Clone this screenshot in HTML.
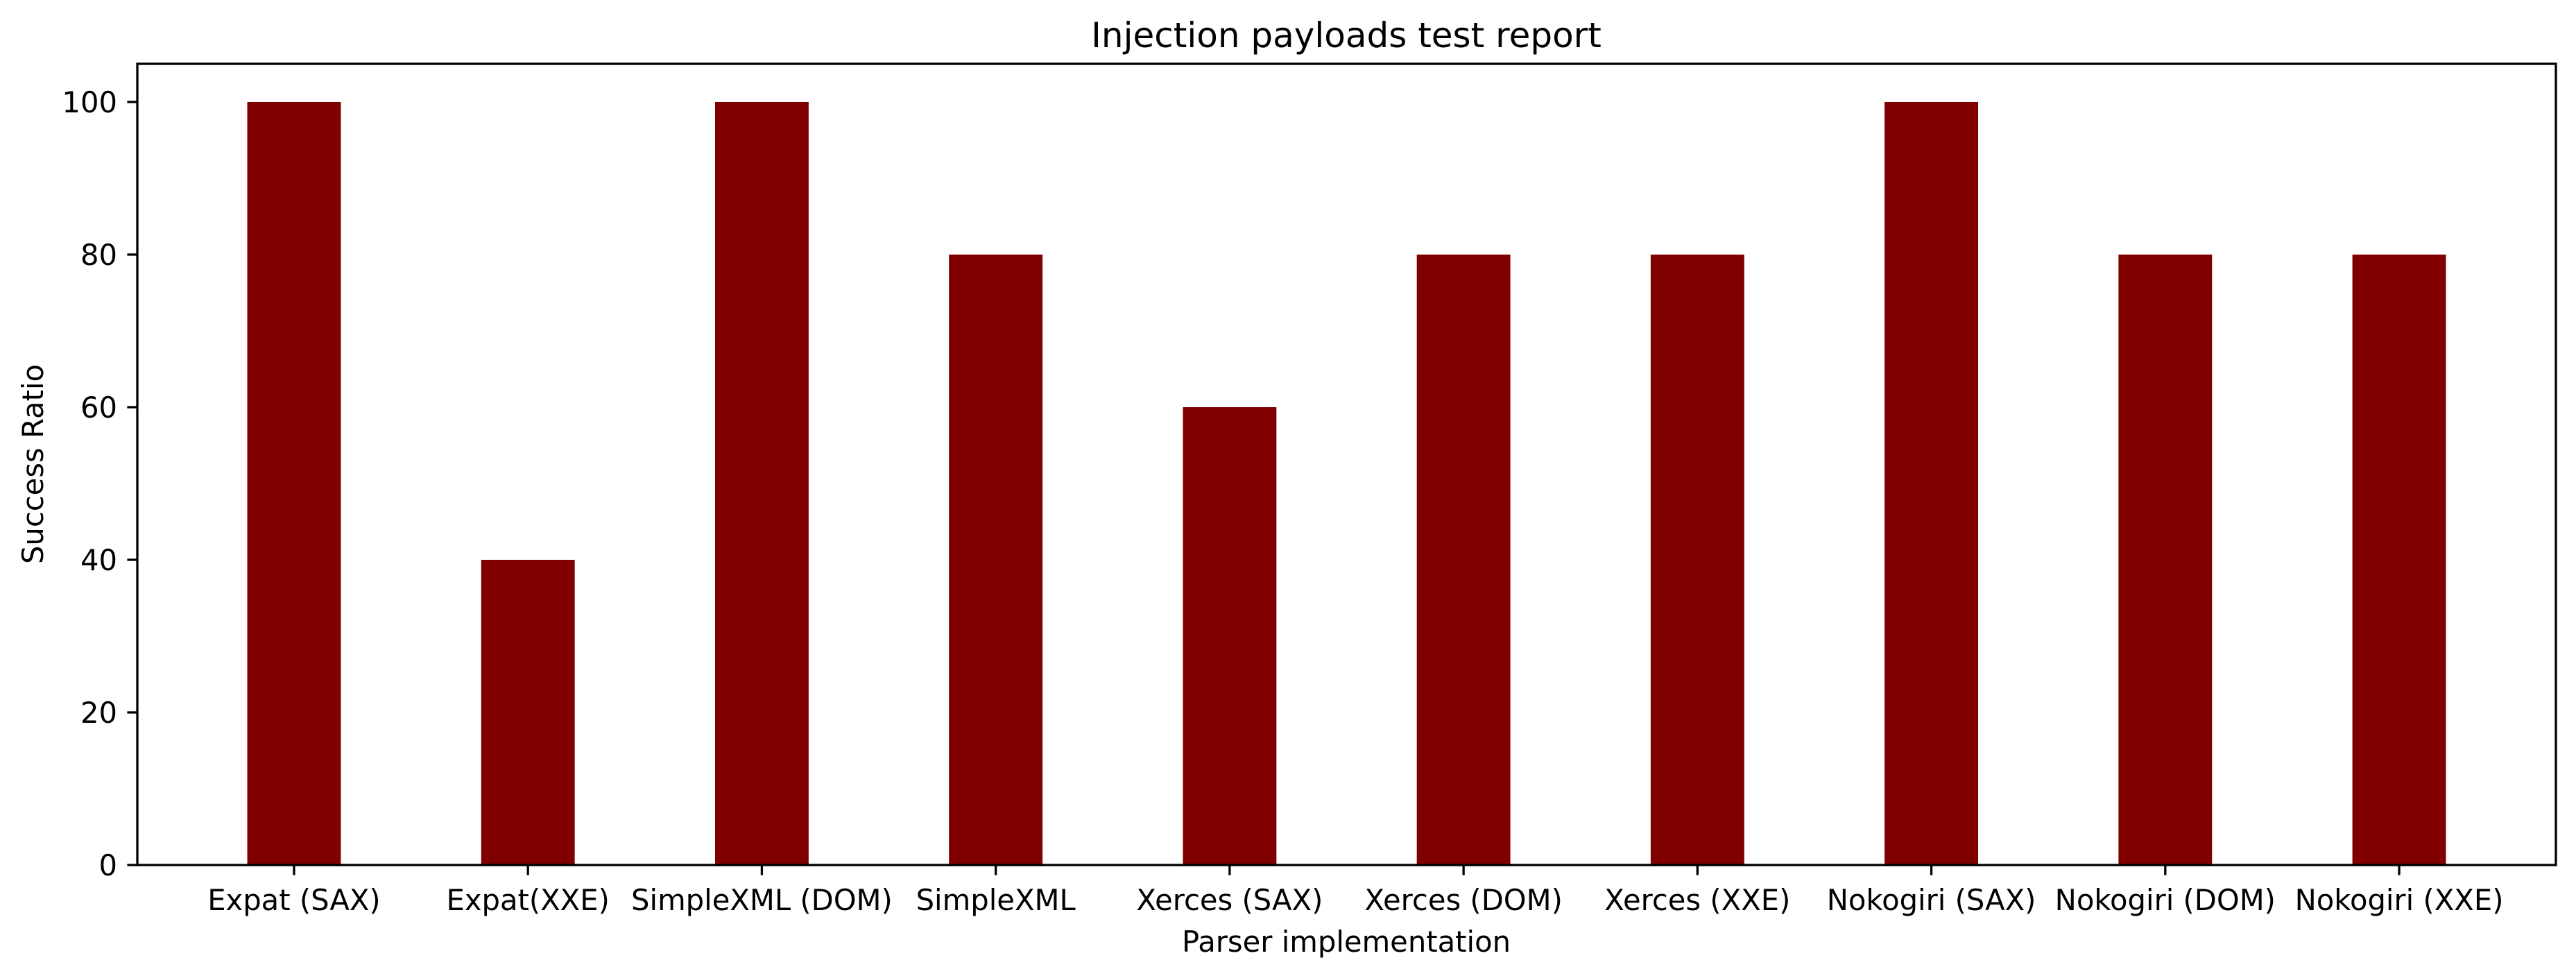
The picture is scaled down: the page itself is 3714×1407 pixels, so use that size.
<!DOCTYPE html>
<html><head><meta charset="utf-8"><style>
html,body{margin:0;padding:0;background:#fff;}
svg{display:block;font-family:"DejaVu Sans","Liberation Sans",sans-serif;}
</style></head><body>
<svg id="chart" width="3714" height="1407" viewBox="0 0 3714 1407" xmlns="http://www.w3.org/2000/svg">
<rect width="3714" height="1407" fill="#fff"/>
<text x="1941" y="68" font-size="50" text-anchor="middle">Injection payloads test report</text>
<text x="1941" y="1372" font-size="41.7" text-anchor="middle">Parser implementation</text>
<text transform="translate(62,669) rotate(-90)" font-size="41.7" text-anchor="middle">Success Ratio</text>
<g id="bars"></g>
<g id="ticks"></g>
<rect x="198" y="92" width="3487" height="1155" fill="none" stroke="#000" stroke-width="3.3"/>
</svg>
<script>
const categories = ["Expat (SAX)","Expat(XXE)","SimpleXML (DOM)","SimpleXML","Xerces (SAX)","Xerces (DOM)","Xerces (XXE)","Nokogiri (SAX)","Nokogiri (DOM)","Nokogiri (XXE)"];
const values = [100,40,100,80,60,80,80,100,80,80];
const yTicks = [0,20,40,60,80,100];

const NS="http://www.w3.org/2000/svg";
const L=198,R=3685,T=92,B=1247;
const xMin=-0.67,xMax=categories.length-1+0.67,yMax=105;
function xS(i){return L+(i-xMin)/(xMax-xMin)*(R-L);}
function yS(v){return B-v/yMax*(B-T);}
const bw=(xS(1)-xS(0))*0.4;
const bars=document.getElementById('bars'),ticks=document.getElementById('ticks');
function mk(tag,attrs,parent){const e=document.createElementNS(NS,tag);for(const k in attrs)e.setAttribute(k,attrs[k]);parent.appendChild(e);return e;}
categories.forEach((c,i)=>{
  const r=mk('rect',{x:xS(i)-bw/2,y:yS(values[i]),width:bw,height:B-yS(values[i]),fill:'#800000'},bars);
  
  
  const t=mk('line',{x1:xS(i),x2:xS(i),y1:B,y2:B+14.6,stroke:'#000','stroke-width':3.3},ticks);
  
  
  const lb=mk('text',{x:xS(i),y:1312,'font-size':41.7,'text-anchor':'middle'},ticks);
  lb.textContent=c;
  
  
});
yTicks.forEach(v=>{
  const t=mk('line',{x1:L-14.6,x2:L,y1:yS(v),y2:yS(v),stroke:'#000','stroke-width':3.3},ticks);
  
  
  const lb=mk('text',{x:L-29,y:yS(v)+15,'font-size':41.7,'text-anchor':'end'},ticks);
  lb.textContent=v;
  
  
});
</script>
</body></html>
